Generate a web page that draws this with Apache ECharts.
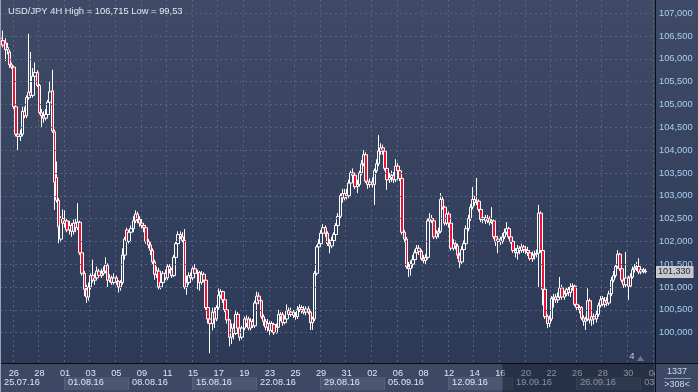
<!DOCTYPE html>
<html><head><meta charset="utf-8">
<script src="https://cdn.jsdelivr.net/npm/echarts@6/dist/echarts.min.js"></script>
<style>
html,body{margin:0;padding:0;background:#2e3a55;}
#c{width:698px;height:392px;background:linear-gradient(to bottom,#3f4b66 0%,#2b3856 100%);}
</style>
</head><body><div id="c"></div>
<script>
// ---- data ----
const tradingDays = [
'25.07.16','26.07.16','27.07.16','28.07.16','29.07.16',
'01.08.16','02.08.16','03.08.16','04.08.16','05.08.16',
'08.08.16','09.08.16','10.08.16','11.08.16','12.08.16',
'15.08.16','16.08.16','17.08.16','18.08.16','19.08.16',
'22.08.16','23.08.16','24.08.16','25.08.16','26.08.16',
'29.08.16','30.08.16','31.08.16','01.09.16','02.09.16',
'05.09.16','06.09.16','07.09.16','08.09.16','09.09.16',
'12.09.16','13.09.16','14.09.16','15.09.16','16.09.16',
'19.09.16','20.09.16','21.09.16','22.09.16','23.09.16',
'26.09.16','27.09.16','28.09.16','29.09.16','30.09.16',
'03.10.16','04.10.16'];
const barHours = ['00:00','04:00','08:00','12:00','16:00','20:00'];
const slotCount = 307;
const yTickValues = [100, 100.5, 101, 101.5, 102, 102.5, 103, 103.5, 104, 104.5, 105, 105.5, 106, 106.5, 107];

const opens = [
106.45,106.40,106.35,106.20,106.15,105.87,
105.82,104.95,104.35,104.30,104.35,104.85,
104.75,105.15,105.27,105.20,105.62,105.70,
105.42,104.82,104.75,104.70,104.78,105.05,
105.30,104.40,103.40,102.90,102.05,102.50,
102.40,102.45,102.25,102.35,102.22,102.40,
102.30,102.42,101.75,101.30,100.95,100.78,
101.00,101.25,101.15,101.20,101.35,101.25,
101.30,101.35,101.48,101.15,101.20,101.10,
101.20,101.12,101.00,101.10,101.70,102.25,
102.00,102.20,102.28,102.45,102.60,102.48,
102.40,102.35,102.30,102.00,101.92,101.80,
101.55,101.28,101.35,101.00,101.10,101.30,
101.20,101.45,101.38,101.25,101.65,101.95,
102.15,102.10,102.02,101.00,101.10,101.25,
101.20,101.40,101.30,101.32,101.10,101.28,
101.15,100.55,100.30,100.20,100.45,100.30,
100.55,100.82,100.90,100.72,100.50,100.28,
99.90,100.10,99.98,100.40,100.10,99.90,
100.10,100.30,100.30,100.10,100.25,100.15,
100.65,100.80,100.70,100.35,100.25,100.12,
100.20,100.05,100.18,100.00,100.12,100.40,
100.40,100.22,100.30,100.48,100.40,100.45,
100.38,100.35,100.50,100.55,100.50,100.45,
100.52,100.45,100.22,100.30,101.30,101.88,
101.95,102.18,102.30,102.18,101.95,101.90,
102.02,102.15,102.35,102.55,103.05,102.95,
103.05,103.00,103.28,103.50,103.45,103.20,
103.25,103.50,103.70,103.90,103.32,103.25,
103.30,103.25,103.55,103.70,103.98,104.05,
103.98,103.60,103.35,103.40,103.45,103.35,
103.65,103.55,103.38,102.20,102.05,101.45,
101.40,101.50,101.60,101.75,101.85,101.78,
101.62,101.58,101.65,102.45,102.50,102.45,
102.10,102.18,102.22,102.92,102.75,102.40,
102.60,102.40,101.85,101.95,101.90,101.70,
101.55,101.82,101.95,102.28,102.50,102.75,
102.92,102.85,102.88,102.70,102.48,102.52,
102.45,102.50,102.42,102.45,102.10,102.00,
102.05,102.00,102.10,102.20,102.28,102.10,
102.00,101.80,101.75,101.85,101.80,101.88,
101.82,101.80,101.75,101.62,101.70,101.72,
101.74,102.62,101.80,100.95,100.35,100.20,
100.30,100.75,100.78,100.72,100.78,100.98,
100.78,100.85,100.95,100.88,101.00,101.02,
100.62,100.55,100.55,100.32,100.25,100.30,
100.70,100.28,100.35,100.30,100.40,100.60,
100.75,100.62,100.70,100.65,100.85,101.15,
101.25,101.45,101.72,101.40,101.15,101.05,
101.20,101.02,101.22,101.38,101.42,101.45,
101.33,101.38,101.35];

const highs = [
106.60,106.62,106.45,106.35,106.20,105.92,
105.85,105.00,104.40,104.45,104.95,104.95,
105.20,106.55,106.15,105.80,105.92,105.75,
105.45,104.90,104.85,104.90,105.10,105.50,
105.76,104.45,103.75,102.95,102.55,102.70,
102.68,102.50,102.45,102.40,102.48,102.50,
102.84,102.45,101.80,101.35,101.05,101.10,
101.30,101.60,101.30,101.45,101.40,101.40,
101.45,101.65,101.52,101.28,101.25,101.30,
101.25,101.15,101.15,101.85,102.10,102.30,
102.25,102.35,102.55,102.68,102.65,102.55,
102.50,102.40,102.35,102.05,101.98,101.85,
101.60,101.45,101.42,101.20,101.35,101.38,
101.50,101.50,101.42,101.70,102.00,102.22,
102.22,102.20,102.27,101.25,101.32,101.32,
101.45,101.50,101.38,101.35,101.35,101.32,
101.20,100.60,100.40,100.55,100.55,100.60,
100.97,100.95,100.92,100.78,100.55,100.30,
100.20,100.20,100.50,100.45,100.15,100.15,
100.35,100.38,100.35,100.32,100.30,100.70,
100.90,100.88,100.72,100.40,100.30,100.30,
100.25,100.25,100.22,100.20,100.50,100.45,
100.45,100.38,100.62,100.55,100.55,100.50,
100.45,100.58,100.62,100.60,100.58,100.58,
100.58,100.50,100.35,101.35,101.92,102.05,
102.25,102.38,102.35,102.22,102.05,102.10,
102.20,102.40,102.62,103.05,103.15,103.15,
103.15,103.35,103.55,103.60,103.50,103.35,
103.55,103.78,104.00,103.95,103.38,103.38,
103.40,103.60,103.80,104.33,104.15,104.12,
104.05,103.65,103.50,103.55,103.52,103.80,
103.72,103.60,103.42,102.25,102.10,101.55,
101.58,101.70,101.82,101.92,101.92,101.82,
101.70,101.72,102.50,102.62,102.58,102.50,
102.25,102.30,103.06,102.98,102.78,102.68,
102.65,102.42,102.05,102.02,101.95,101.75,
101.90,102.02,102.35,102.58,102.82,103.19,
103.00,103.39,102.92,102.75,102.62,102.58,
102.58,102.55,102.75,102.48,102.15,102.12,
102.10,102.18,102.28,102.42,102.32,102.15,
102.05,101.85,101.92,101.90,101.95,101.92,
101.90,101.88,101.80,101.78,101.80,101.82,
102.80,102.66,101.85,101.00,100.40,100.38,
100.80,100.85,100.85,100.88,101.22,101.05,
100.92,101.00,101.00,101.08,101.08,101.05,
100.68,100.60,100.58,100.38,100.35,100.97,
100.75,100.42,100.42,100.48,100.66,100.80,
100.80,100.78,100.78,100.92,101.22,101.35,
101.50,101.81,101.75,101.45,101.20,101.77,
101.25,101.30,101.45,101.50,101.55,101.63,
101.45,101.42,101.40];

const lows = [
106.30,106.25,105.95,106.10,105.80,105.78,
104.90,104.30,104.00,104.20,104.30,104.70,
104.70,105.10,105.15,105.15,105.45,105.38,
104.78,104.50,104.60,104.65,104.70,105.00,
104.38,102.69,102.85,101.96,101.98,102.30,
102.30,102.20,102.15,102.10,102.15,102.20,
102.25,101.70,101.25,100.80,100.65,100.70,
100.95,101.10,101.05,101.15,101.20,101.20,
101.25,101.30,101.00,101.10,101.05,101.05,
101.05,100.88,100.92,101.05,101.60,101.95,
101.95,101.98,102.20,102.40,102.40,102.32,
102.28,102.20,101.95,101.85,101.70,101.50,
101.16,101.20,100.95,100.95,101.05,101.15,
101.15,101.30,101.20,101.22,101.60,101.90,
102.05,101.98,100.95,100.83,101.05,101.10,
101.15,101.25,100.95,100.92,101.05,101.10,
100.50,100.20,99.55,100.05,100.10,100.25,
100.50,100.75,100.65,100.45,100.20,99.70,
99.75,99.85,99.95,100.05,99.82,99.85,
100.05,100.12,100.05,100.05,100.10,100.10,
100.60,100.62,100.30,100.15,100.05,100.02,
99.95,100.00,99.95,99.98,100.10,100.25,
100.15,100.18,100.28,100.35,100.35,100.32,
100.28,100.30,100.45,100.42,100.40,100.38,
100.40,100.06,100.06,100.25,101.25,101.80,
101.90,102.12,102.10,101.90,101.74,101.85,
101.95,102.10,102.30,102.50,102.85,102.90,
102.92,102.95,103.22,103.35,103.15,103.06,
103.20,103.45,103.65,103.28,103.15,103.18,
103.18,102.80,103.50,103.65,103.90,103.90,
103.55,103.13,103.28,103.30,103.28,103.30,
103.48,103.32,102.15,101.98,101.40,101.22,
101.25,101.42,101.55,101.68,101.70,101.58,
101.52,101.50,101.60,102.40,102.40,102.05,
102.05,102.08,102.18,102.70,102.35,102.35,
102.30,101.80,101.80,101.82,101.62,101.42,
101.50,101.75,101.90,102.22,102.45,102.70,
102.78,102.80,102.65,102.42,102.40,102.38,
102.40,102.35,102.38,102.05,101.90,101.74,
101.92,101.95,102.05,102.15,102.05,101.95,
101.75,101.65,101.60,101.72,101.75,101.75,
101.72,101.68,101.58,101.55,101.60,101.65,
101.00,101.75,100.60,100.30,100.10,100.12,
100.25,100.55,100.65,100.65,100.72,100.72,
100.72,100.80,100.80,100.78,100.92,100.58,
100.48,100.42,100.28,100.15,100.06,100.25,
100.20,100.15,100.18,100.22,100.35,100.55,
100.58,100.55,100.58,100.60,100.80,101.10,
101.20,101.40,101.35,101.10,100.98,101.00,
100.72,100.98,101.18,101.32,101.35,101.28,
101.28,101.30,101.30];

const closes = [
106.40,106.30,106.20,106.25,105.87,105.82,
104.95,104.35,104.30,104.35,104.85,104.75,
105.15,105.27,105.20,105.62,105.70,105.42,
104.82,104.75,104.70,104.78,105.05,105.28,
104.42,103.30,102.90,102.32,102.50,102.40,
102.45,102.25,102.35,102.22,102.40,102.30,
102.42,101.75,101.30,100.95,100.78,101.00,
101.25,101.15,101.20,101.35,101.25,101.30,
101.35,101.48,101.15,101.20,101.10,101.20,
101.12,101.00,101.10,101.70,102.05,102.00,
102.20,102.28,102.45,102.60,102.48,102.40,
102.35,102.30,102.00,101.92,101.80,101.55,
101.28,101.35,101.00,101.10,101.30,101.20,
101.45,101.38,101.25,101.65,101.95,102.15,
102.10,102.02,101.00,101.10,101.25,101.20,
101.40,101.30,101.32,101.10,101.28,101.15,
100.55,100.30,100.20,100.45,100.30,100.55,
100.82,100.90,100.72,100.50,100.28,99.90,
100.10,99.98,100.40,100.10,99.90,100.10,
100.30,100.20,100.10,100.25,100.15,100.65,
100.80,100.70,100.35,100.25,100.12,100.20,
100.05,100.20,100.00,100.12,100.40,100.35,
100.22,100.30,100.48,100.40,100.45,100.38,
100.35,100.50,100.55,100.50,100.45,100.52,
100.45,100.22,100.30,101.30,101.88,101.95,
102.18,102.30,102.18,101.95,101.90,102.02,
102.15,102.35,102.55,103.00,102.95,103.05,
103.00,103.28,103.50,103.45,103.20,103.25,
103.50,103.70,103.90,103.32,103.25,103.30,
103.25,103.55,103.70,103.98,104.05,103.98,
103.60,103.35,103.40,103.45,103.35,103.65,
103.55,103.38,102.20,102.05,101.45,101.40,
101.50,101.60,101.75,101.85,101.78,101.62,
101.58,101.65,102.45,102.50,102.45,102.10,
102.18,102.22,102.92,102.75,102.40,102.60,
102.40,101.85,101.95,101.90,101.70,101.55,
101.82,101.95,102.28,102.50,102.75,102.92,
102.85,102.88,102.70,102.48,102.52,102.45,
102.50,102.42,102.45,102.10,102.00,102.05,
102.00,102.10,102.20,102.28,102.10,102.00,
101.80,101.75,101.85,101.80,101.88,101.82,
101.80,101.75,101.62,101.70,101.72,101.74,
102.62,101.80,100.95,100.35,100.20,100.30,
100.75,100.78,100.72,100.78,100.98,100.78,
100.85,100.95,100.88,101.00,101.02,100.62,
100.55,100.50,100.32,100.25,100.30,100.70,
100.28,100.35,100.30,100.40,100.60,100.72,
100.62,100.70,100.65,100.85,101.15,101.25,
101.45,101.72,101.40,101.15,101.05,101.20,
101.02,101.22,101.38,101.42,101.45,101.33,
101.38,101.35,101.33];

const titleText = 'USD/JPY 4H High = 106,715 Low = 99,53';
const priceMin = 99.335, priceMax = 107.29;

// ---- build ----
const categories = [];
tradingDays.forEach(d => barHours.forEach(h => { if (categories.length < slotCount) categories.push(d + ' ' + h); }));
const candles = opens.map((o, i) => [o, closes[i], lows[i], highs[i]]);
const lastClose = closes[closes.length - 1];
const fmt = (v, n) => v.toFixed(n).replace('.', ',');
const yLo = yTickValues[0], yHi = yTickValues[yTickValues.length - 1];
const dayLabelAt = (i) => i % 6 === 0 && Math.floor(i / 6) % 2 === 1;
const weekLabelAt = (i) => i % 30 === 0;
const FF = 'Liberation Sans, Arial, sans-serif';
const dash = { color: '#57637e', type: [2, 3], width: 1 };

const chart = echarts.init(document.getElementById('c'), null, { renderer: 'canvas' });
chart.setOption({
  animation: false,
  backgroundColor: 'transparent',
  title: { text: titleText, left: 3, top: 2,
    textStyle: { color: '#e4e8ef', fontSize: 9.4, fontWeight: 'normal', fontFamily: FF } },
  grid: [
    { left: 0, right: 43, top: 0, bottom: 29 },
    { left: 0, right: 43, top: 364, height: 28, show: true, backgroundColor: '#3c4864', borderWidth: 0 },
    { left: 0, right: 43, top: 377, height: 13 }
  ],
  xAxis: [
    { type: 'category', gridIndex: 0, data: categories, boundaryGap: true,
      axisLine: { show: false }, axisTick: { show: false },
      axisLabel: { interval: dayLabelAt, formatter: v => v.slice(0, 2), color: '#dfe7f3',
        fontSize: 9.2, margin: 6, fontFamily: FF },
      splitLine: { show: true, interval: dayLabelAt, lineStyle: dash } },
    { type: 'category', gridIndex: 1, data: categories, boundaryGap: true, show: false },
    { type: 'category', gridIndex: 2, data: categories, boundaryGap: true, position: 'top',
      axisLine: { show: false }, axisTick: { show: false },
      axisLabel: { inside: true, interval: weekLabelAt, formatter: v => v.slice(0, 8), align: 'left',
        margin: 1, padding: [0, 0, 0, 3], color: '#dfe7f3', fontSize: 9.2, fontFamily: FF },
      splitArea: { show: true, interval: weekLabelAt,
        areaStyle: { color: ['rgba(0,0,0,0)', 'rgba(255,255,255,0.08)'] } },
      splitLine: { show: true, interval: weekLabelAt, lineStyle: { color: '#56627d', width: 1 } } }
  ],
  yAxis: [
    { type: 'value', gridIndex: 0, position: 'right', min: priceMin, max: priceMax,
      splitNumber: 16, minInterval: 0.5, maxInterval: 0.5,
      axisLine: { show: false }, axisTick: { show: false },
      axisLabel: { formatter: v => (v >= yLo - 1e-6 && v <= yHi + 1e-6) ? fmt(v, 3) : '',
        color: '#a8d0f3', fontSize: 9.3, margin: 4, fontFamily: FF, showMinLabel: false, showMaxLabel: false },
      splitLine: { show: false } },
    { type: 'value', gridIndex: 1, min: 0, max: 1, show: false },
    { type: 'value', gridIndex: 2, min: 0, max: 1, show: false }
  ],
  series: [
    { type: 'line', xAxisIndex: 0, yAxisIndex: 0, data: [], silent: true, z: 1,
      markLine: { silent: true, symbol: ['none', 'none'], animation: false, label: { show: false },
        lineStyle: dash, emphasis: { disabled: true },
        data: yTickValues.map(v => ({ yAxis: v })) } },
    { type: 'candlestick', xAxisIndex: 0, yAxisIndex: 0, data: candles, barWidth: 3, z: 3,
      itemStyle: { color: '#34415d', color0: '#ee1133', borderColor: '#ffffff', borderColor0: '#ffffff', borderWidth: 1 },
      markLine: { silent: true, symbol: ['none', 'none'], animation: false,
        lineStyle: { width: 0, color: 'rgba(0,0,0,0)' },
        label: { position: 'end', distance: 0, formatter: () => fmt(lastClose, 3),
          backgroundColor: '#c6c8cc', color: '#1b2233', fontSize: 9, fontFamily: FF, padding: [2, 3, 1, 3] },
        data: [{ yAxis: lastClose }] } },
    { type: 'line', xAxisIndex: 1, yAxisIndex: 1, data: [], silent: true, z: 5,
      markArea: { silent: true, itemStyle: { color: 'rgba(10,16,32,0.42)' },
        data: [[{ xAxis: categories[235] }, { xAxis: categories[slotCount - 1] }]] } }
  ],
  graphic: { elements: [
    { type: 'rect', z: 100, shape: { x: 656, y: 364, width: 42, height: 28 }, style: { fill: '#3c4864' } },
    { type: 'line', z: 101, shape: { x1: 655.5, y1: 0, x2: 655.5, y2: 392 }, style: { stroke: '#0b0d12', lineWidth: 1 } },
    { type: 'line', z: 101, shape: { x1: 0, y1: 363.5, x2: 698, y2: 363.5 }, style: { stroke: '#0b0d12', lineWidth: 1 } },
    { type: 'rect', z: 101, shape: { x: 0, y: 0, width: 1, height: 392 }, style: { fill: '#9aa3b3' } },
    { type: 'text', z: 101, style: { text: '1337', x: 677, y: 372, align: 'center', verticalAlign: 'middle', fill: '#c9dcf2', font: '9px ' + FF } },
    { type: 'line', z: 101, shape: { x1: 664, y1: 378.5, x2: 691, y2: 378.5 }, style: { stroke: '#8196b5', lineWidth: 1 } },
    { type: 'text', z: 101, style: { text: '>308<', x: 677, y: 385, align: 'center', verticalAlign: 'middle', fill: '#c9dcf2', font: '9px ' + FF } },
    { type: 'text', z: 101, style: { text: '4', x: 632, y: 357, align: 'center', verticalAlign: 'middle', fill: '#c6cfdd', font: '9px ' + FF } },
    { type: 'polygon', z: 101, shape: { points: [[637, 361], [644, 361], [640.5, 356]] }, style: { fill: '#6e788c' } }
  ] }
});
</script></body></html>
